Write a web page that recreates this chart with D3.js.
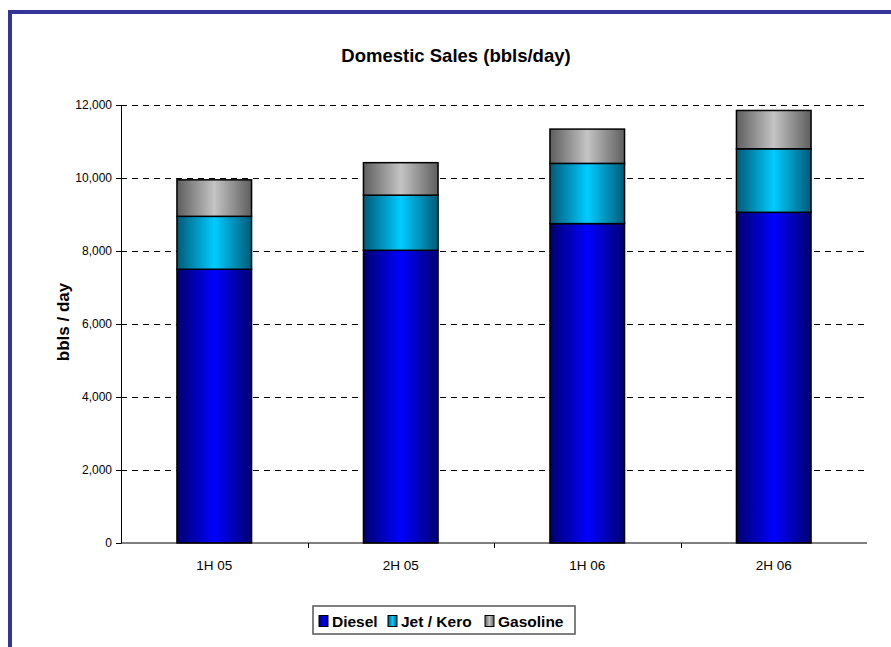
<!DOCTYPE html>
<html>
<head>
<meta charset="utf-8">
<script src="https://d3js.org/d3.v7.min.js"></script>
<style>
    body { margin: 0; background: #fff; }
    svg { display: block; font-family: "Liberation Sans", Arial, sans-serif; }
</style>
</head>
<body>
<div id="chart"></div>
<script>
const categories = ['1H 05', '2H 05', '1H 06', '2H 06'];
const diesel = [7500, 8020, 8750, 9060];
const jetKero = [1450, 1510, 1650, 1740];
const gasoline = [1000, 890, 940, 1050];
const seriesNames = ['Diesel', 'Jet / Kero', 'Gasoline'];
const yTicks = [0, 2000, 4000, 6000, 8000, 10000, 12000];

class StackChart {
    constructor(element, configs = {}) {
        let defaultConfig = {
            width: 891,
            height: 647,
            margin: { top: 105, right: 24, bottom: 104, left: 121 }
        };
        this.config = Object.assign({}, defaultConfig, configs);
        this.svg = d3.select(element).append("svg")
            .attr("width", this.config.width)
            .attr("height", this.config.height);
        this.initParams();
        this.draw();
    }

    initParams() {
        this.data = categories.map((c, i) => ({
            cat: c, Diesel: diesel[i], 'Jet / Kero': jetKero[i], Gasoline: gasoline[i]
        }));
        this.width = this.config.width - this.config.margin.left - this.config.margin.right;
        this.height = this.config.height - this.config.margin.top - this.config.margin.bottom;
        this.colors = {
            'Diesel': ['#000070', '#0000ff'],
            'Jet / Kero': ['#005a78', '#00ccff'],
            'Gasoline': ['#5e5e5e', '#c4c4c4']
        };
    }

    // gradients for the bar shading
    generateDefs() {
        let defs = this.svg.append("defs");
        seriesNames.forEach((name, i) => {
            let g = defs.append("linearGradient")
                .attr("id", "grad" + i)
                .attr("x1", "0%").attr("x2", "100%")
                .attr("y1", "0%").attr("y2", "0%");
            g.append("stop").attr("offset", "0%").attr("stop-color", this.colors[name][0]);
            g.append("stop").attr("offset", "50%").attr("stop-color", this.colors[name][1]);
            g.append("stop").attr("offset", "100%").attr("stop-color", this.colors[name][0]);
        });
    }

    generateFrame() {
        this.svg.append("rect")
            .attr("x", 10).attr("y", 12)
            .attr("width", 900).attr("height", 660)
            .attr("fill", "none")
            .attr("stroke", "#333399")
            .attr("stroke-width", 4);

        this.svg.append("text")
            .attr("x", 456).attr("y", 62)
            .attr("text-anchor", "middle")
            .attr("font-size", 18.5)
            .attr("font-weight", "bold")
            .text("Domestic Sales (bbls/day)");

        this.svg.append("text")
            .attr("transform", "translate(69,322) rotate(-90)")
            .attr("text-anchor", "middle")
            .attr("font-size", 17)
            .attr("font-weight", "bold")
            .text("bbls / day");
    }

    generateRange() {
        this.xRange = d3.scaleBand().domain(categories)
            .range([0, this.width])
            .paddingInner(0.6).paddingOuter(0.3);
        this.xBand = d3.scaleBand().domain(categories).range([0, this.width]);
        this.yRange = d3.scaleLinear().domain([0, 12000]).range([this.height, 0]);
    }

    generateAxis() {
        this.element = this.svg.append("g")
            .attr("transform", "translate(" + this.config.margin.left + "," + this.config.margin.top + ")");

        // dashed grid
        this.element.append("g")
            .selectAll("line")
            .data(yTicks.slice(1))
            .enter().append("line")
            .attr("x1", 0).attr("x2", this.width)
            .attr("y1", d => Math.round(this.yRange(d)) + 0.5)
            .attr("y2", d => Math.round(this.yRange(d)) + 0.5)
            .attr("stroke", "#000")
            .attr("stroke-dasharray", "6,5");

        this.chartContainer = this.element.append("g");

        let yAxis = this.element.append("g")
            .call(d3.axisLeft(this.yRange).tickValues(yTicks).tickSize(5).tickPadding(4).tickSizeOuter(0)
                .tickFormat(d3.format(",")));
        yAxis.selectAll("text").attr("font-size", 12).attr("fill", "#000")
            .attr("font-family", "Liberation Sans, Arial, sans-serif");

        let xAxis = this.element.append("g")
            .attr("transform", "translate(0," + this.height + ")")
            .call(d3.axisBottom(this.xBand).tickSize(0).tickPadding(17));
        xAxis.select(".domain").remove();
        xAxis.append("line").attr("x1", 0).attr("x2", this.width).attr("stroke", "#000");
        xAxis.selectAll(".tickmark")
            .data(categories.slice(1))
            .enter().append("line")
            .attr("x1", d => Math.round(this.xBand(d)) + 0.5)
            .attr("x2", d => Math.round(this.xBand(d)) + 0.5)
            .attr("y1", 0).attr("y2", 5)
            .attr("stroke", "#000");
        xAxis.selectAll("text").attr("font-size", 13.5).attr("fill", "#000")
            .attr("font-family", "Liberation Sans, Arial, sans-serif");
    }

    drawBars() {
        let stacked = d3.stack().keys(seriesNames)(this.data);
        let groups = this.chartContainer.selectAll(".series")
            .data(stacked)
            .enter().append("g")
            .attr("class", "series")
            .attr("fill", (d, i) => "url(#grad" + i + ")");

        groups.selectAll("rect")
            .data(d => d)
            .enter().append("rect")
            .attr("x", d => this.xRange(d.data.cat))
            .attr("y", d => this.yRange(d[1]))
            .attr("width", this.xRange.bandwidth())
            .attr("height", d => this.yRange(d[0]) - this.yRange(d[1]))
            .attr("stroke", "#000")
            .attr("stroke-width", 1.5);
    }

    drawLegend() {
        let legend = this.svg.append("g").attr("transform", "translate(313,606)");
        legend.append("rect")
            .attr("width", 262).attr("height", 28)
            .attr("fill", "#fff")
            .attr("stroke", "#555")
            .attr("stroke-width", 1.5);

        let offsets = [6, 75, 172];
        seriesNames.forEach((name, i) => {
            let item = legend.append("g").attr("transform", "translate(" + offsets[i] + ",0)");
            item.append("rect")
                .attr("x", 0).attr("y", 9.5)
                .attr("width", 9).attr("height", 11)
                .attr("fill", "url(#grad" + i + ")")
                .attr("stroke", "#000");
            item.append("text")
                .attr("x", 13).attr("y", 20.5)
                .attr("font-size", 15.5)
                .attr("font-weight", "bold")
                .text(name);
        });
    }

    draw() {
        this.generateDefs();
        this.generateFrame();
        this.generateRange();
        this.generateAxis();
        this.drawBars();
        this.drawLegend();
    }
}

new StackChart("#chart");
</script>
</body>
</html>
